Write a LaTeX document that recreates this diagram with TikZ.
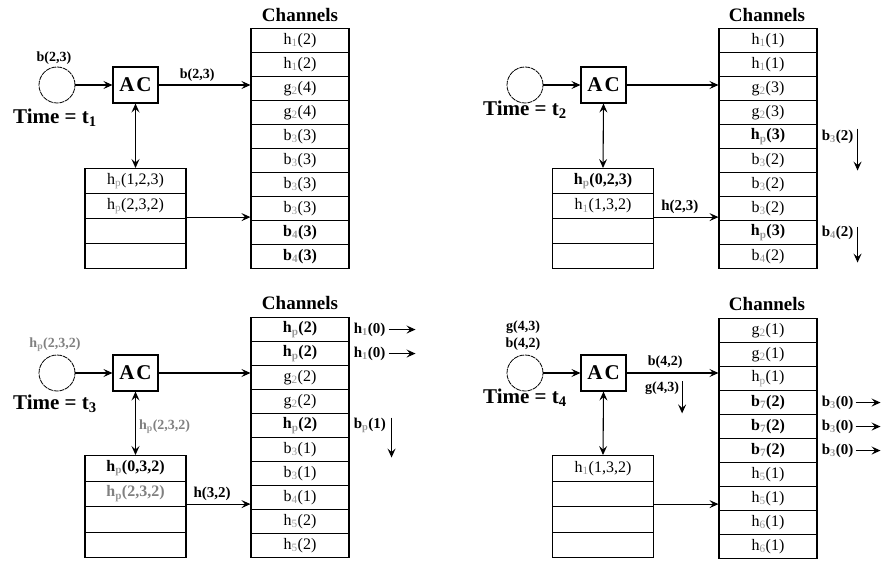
\documentclass[tikz,border=0pt]{standalone}
\usepackage{fontspec}
\setmainfont{Liberation Serif}
\usetikzlibrary{arrows.meta,calc}
\definecolor{subgray}{gray}{0.6}
\definecolor{lblgray}{gray}{0.5}
\newcommand{\mysub}[1]{\textsubscript{\textcolor{subgray}{#1}}}
\begin{document}
\begin{tikzpicture}[x=1pt,y=-1pt,
  chrow/.style={draw,line width=1.1pt,minimum width=98pt,minimum height=24pt,inner sep=0pt,anchor=north,font=\fontsize{16}{16}\selectfont},
  bufrow/.style={draw,line width=1.1pt,minimum width=101pt,minimum height=25pt,inner sep=0pt,anchor=north,font=\fontsize{16}{16}\selectfont},
  acbox/.style={draw,line width=1.1pt,minimum width=45pt,minimum height=36pt,inner sep=0pt,font=\fontsize{21}{21}\selectfont\bfseries},
  src/.style={circle,draw,line width=0.8pt,dash pattern=on 5pt off 0.8pt,minimum size=36pt,inner sep=0pt},
  ttl/.style={font=\fontsize{19}{19}\selectfont\bfseries},
  tm/.style={font=\fontsize{21}{21}\selectfont\bfseries,anchor=west,inner sep=0pt},
  lbl/.style={font=\fontsize{15}{15}\selectfont\bfseries,inner sep=0pt},
  slbl/.style={font=\fontsize{14}{14}\selectfont\bfseries,inner sep=0pt},
  arr/.style={line width=1.1pt,-{Stealth[length=9pt,width=8pt,inset=3.5pt]}},
  darr/.style={line width=1.1pt,{Stealth[length=9pt,width=8pt,inset=3.5pt]}-{Stealth[length=9pt,width=8pt,inset=3.5pt]}},
]
\useasboundingbox (0,0) rectangle (885,561);

% ================= Panel 1 =================
\node[ttl] (A-title) at (300,15) {Channels};
\foreach \t [count=\i] in {{h\mysub{1}(2)},{h\mysub{1}(2)},{g\mysub{2}(4)},{g\mysub{2}(4)},{b\mysub{3}(3)},{b\mysub{3}(3)},{b\mysub{3}(3)},{b\mysub{3}(3)},{\textbf{b\mysub{4}(3)}},{\textbf{b\mysub{4}(3)}}}
  \node[chrow] (A-c\i) at (300,{28+24*(\i-1)}) {\t};
\foreach \t [count=\i] in {{h\mysub{p}(1,2,3)},{h\mysub{p}(2,3,2)},{},{}}
  \node[bufrow] (A-b\i) at (135.5,{168+25*(\i-1)}) {\t};
\node[src] (A-src) at (57,85) {};
\node[slbl] (A-srcl) at (54,58) {b(2,3)};
\node[acbox] (A-ac) at (135.5,85) {A\kern2pt C};
\node[tm] (A-time) at (13,118) {Time = t\textsubscript{1}};
\draw[arr] (A-src) -- (A-ac);
\draw[arr] (A-ac.east) -- (A-ac.east -| A-c3.west) node[slbl,pos=0.42,above=3pt] (A-acl) {b(2,3)};
\draw[darr] (A-ac.south) -- (A-b1.north);
\draw[arr] ([yshift=2pt]A-b2.south east) -- ([yshift=2pt]A-b2.south east -| A-c8.west);

% ================= Panel 2 =================
\node[ttl] (B-title) at (767,15) {Channels};
\foreach \t [count=\i] in {{h\mysub{1}(1)},{h\mysub{1}(1)},{g\mysub{2}(3)},{g\mysub{2}(3)},{\textbf{h\mysub{p}(3)}},{b\mysub{3}(2)},{b\mysub{3}(2)},{b\mysub{3}(2)},{\textbf{h\mysub{p}(3)}},{b\mysub{4}(2)}}
  \node[chrow] (B-c\i) at (768,{28+24*(\i-1)}) {\t};
\foreach \t [count=\i] in {{\textbf{h\mysub{p}(0,2,3)}},{h\mysub{1}(1,3,2)},{},{}}
  \node[bufrow] (B-b\i) at (603,{168+25*(\i-1)}) {\t};
\node[src] (B-src) at (525,85) {};
\node[acbox] (B-ac) at (603.5,85) {A\kern2pt C};
\node[tm] (B-time) at (483,110) {Time = t\textsubscript{2}};
\draw[arr] (B-src) -- (B-ac);
\draw[arr] (B-ac.east) -- (B-ac.east -| B-c3.west);
\draw[darr] (B-ac.south) -- (B-b1.north);
\draw[arr] ([yshift=2pt]B-b2.south east) -- ([yshift=2pt]B-b2.south east -| B-c8.west) node[lbl,pos=0.4,above=3pt] (B-bl) {h(2,3)};
\node[lbl,anchor=west] (B-r5) at ([xshift=4pt]B-c5.east) {b\mysub{3}(2)};
\coordinate (B-r5a) at ([xshift=40pt,yshift=8pt]B-c5.east);
\coordinate (B-r5b) at ([xshift=40pt,yshift=-34pt]B-c5.east);
\draw[arr] (B-r5a) -- (B-r5b);
\node[lbl,anchor=west] (B-r9) at ([xshift=4pt]B-c9.east) {b\mysub{4}(2)};
\coordinate (B-r9a) at ([xshift=40pt,yshift=6pt]B-c9.east);
\coordinate (B-r9b) at ([xshift=40pt,yshift=-30pt]B-c9.east);
\draw[arr] (B-r9a) -- (B-r9b);

% ================= Panel 3 =================
\node[ttl] (C-title) at (300,303) {Channels};
\foreach \t [count=\i] in {{\textbf{h\mysub{p}(2)}},{\textbf{h\mysub{p}(2)}},{g\mysub{2}(2)},{g\mysub{2}(2)},{\textbf{h\mysub{p}(2)}},{b\mysub{3}(1)},{b\mysub{3}(1)},{b\mysub{4}(1)},{h\mysub{5}(2)},{h\mysub{5}(2)}}
  \node[chrow] (C-c\i) at (300,{317+24*(\i-1)}) {\t};
\foreach \t [count=\i] in {{\textbf{h\mysub{p}(0,3,2)}},{\textcolor{lblgray}{\textbf{h\mysub{p}(2,3,2)}}},{},{}}
  \node[bufrow,minimum height=25.5pt] (C-b\i) at (135.5,{455+25.5*(\i-1)}) {\t};
\node[src] (C-src) at (57,373) {};
\node[slbl,text=lblgray] (C-srcl) at (55,345) {h\mysub{p}(2,3,2)};
\node[acbox] (C-ac) at (135.5,373) {A\kern2pt C};
\node[tm] (C-time) at (13,404) {Time = t\textsubscript{3}};
\draw[arr] (C-src) -- (C-ac);
\draw[arr] (C-ac.east) -- (C-ac.east -| C-c3.west);
\draw[darr] (C-ac.south) -- (C-b1.north) node[slbl,text=lblgray,pos=0.55,anchor=west,xshift=3pt] (C-vl) {h\mysub{p}(2,3,2)};
\draw[arr] ([yshift=3pt]C-b2.south east) -- ([yshift=3pt]C-b2.south east -| C-c8.west) node[lbl,pos=0.4,above=3pt] (C-bl) {h(3,2)};
\foreach \r in {1,2} {
  \node[lbl,anchor=west] (C-r\r) at ([xshift=4pt]C-c\r.east) {h\mysub{1}(0)};
  \coordinate (C-r\r a) at ([xshift=3pt]C-r\r.east);
  \coordinate (C-r\r b) at ([xshift=30pt]C-r\r.east);
  \draw[arr] (C-r\r a) -- (C-r\r b);
}
\node[lbl,anchor=west] (C-r5) at ([xshift=4pt]C-c5.east) {b\mysub{p}(1)};
\coordinate (C-r5a) at ([xshift=42pt,yshift=8pt]C-c5.east);
\coordinate (C-r5b) at ([xshift=42pt,yshift=-32pt]C-c5.east);
\draw[arr] (C-r5a) -- (C-r5b);

% ================= Panel 4 =================
\node[ttl] (D-title) at (767,304) {Channels};
\foreach \t [count=\i] in {{g\mysub{2}(1)},{g\mysub{2}(1)},{h\mysub{p}(1)},{\textbf{b\mysub{7}(2)}},{\textbf{b\mysub{7}(2)}},{\textbf{b\mysub{7}(2)}},{h\mysub{5}(1)},{h\mysub{5}(1)},{h\mysub{6}(1)},{h\mysub{6}(1)}}
  \node[chrow] (D-c\i) at (768,{318+24*(\i-1)}) {\t};
\foreach \t [count=\i] in {{h\mysub{1}(1,3,2)},{},{},{}}
  \node[bufrow,minimum height=25.5pt] (D-b\i) at (603,{455+25.5*(\i-1)}) {\t};
\node[src] (D-src) at (525,373) {};
\node[slbl] (D-srcl1) at (523,327) {g(4,3)};
\node[slbl] (D-srcl2) at (523,344) {b(4,2)};
\node[acbox] (D-ac) at (603.5,373) {A\kern2pt C};
\node[tm] (D-time) at (483,398) {Time = t\textsubscript{4}};
\draw[arr] (D-src) -- (D-ac);
\draw[arr] (D-ac.east) -- (D-ac.east -| D-c3.west) node[slbl,pos=0.42,above=4pt] (D-acl) {b(4,2)};
\node[slbl] (D-gl) at (662,388) {g(4,3)};
\coordinate (D-ga) at ([xshift=3pt]D-gl.north east);
\coordinate (D-gb) at ([xshift=3pt,yshift=-32pt]D-gl.north east);
\draw[arr] (D-ga) -- (D-gb);
\draw[darr] (D-ac.south) -- (D-b1.north);
\draw[arr] ([yshift=3pt]D-b2.south east) -- ([yshift=3pt]D-b2.south east -| D-c8.west);
\foreach \r in {4,5,6} {
  \node[lbl,anchor=west] (D-r\r) at ([xshift=4pt]D-c\r.east) {b\mysub{3}(0)};
  \coordinate (D-r\r a) at ([xshift=2pt]D-r\r.east);
  \coordinate (D-r\r b) at ([xshift=27pt]D-r\r.east);
  \draw[arr] (D-r\r a) -- (D-r\r b);
}
\end{tikzpicture}
\end{document}
